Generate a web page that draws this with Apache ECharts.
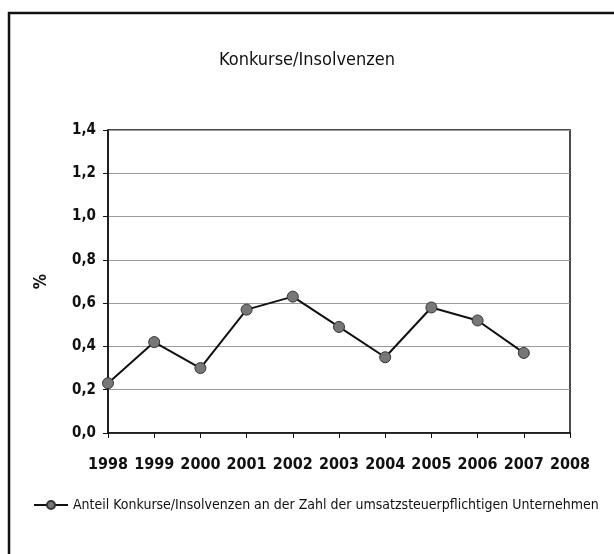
<!DOCTYPE html>
<html>
<head>
<meta charset="utf-8">
<script src="https://cdn.jsdelivr.net/npm/echarts@6/dist/echarts.min.js"></script>
<style>
  html, body { margin: 0; padding: 0; background: #fff; }
  #chart { width: 614px; height: 554px; }
</style>
</head>
<body>
<div id="chart"></div>
<script>
// Jahre (x-Achse)
const years = ['1998', '1999', '2000', '2001', '2002', '2003', '2004', '2005', '2006', '2007', '2008']
// Anteil Konkurse/Insolvenzen in %
const anteil = [0.23, 0.42, 0.30, 0.57, 0.63, 0.49, 0.35, 0.58, 0.52, 0.37, null]

const seriesName = 'Anteil Konkurse/Insolvenzen an der Zahl der umsatzsteuerpflichtigen Unternehmen'
const font = '"Liberation Sans Narrow", "DejaVu Sans Condensed", sans-serif'

const chart = echarts.init(document.getElementById('chart'))

chart.setOption({
  animation: false,
  textStyle: { fontFamily: font },
  title: {
    text: 'Konkurse/Insolvenzen',
    left: 'center',
    top: 46,
    textStyle: { fontFamily: font, fontSize: 18, fontWeight: 'normal', color: '#111' }
  },
  graphic: [{
    type: 'rect',
    shape: { x: 9, y: 13, width: 700, height: 700 },
    style: { fill: 'none', stroke: '#111', lineWidth: 2.5 },
    silent: true
  }],
  legend: {
    left: 28,
    top: 493,
    itemWidth: 34,
    itemHeight: 10,
    itemGap: 4,
    textStyle: { fontFamily: font, fontSize: 14, color: '#111' },
    data: [{ name: seriesName }]
  },
  grid: {
    left: 108,
    right: 44,
    top: 130,
    bottom: 121,
    show: true,
    borderColor: '#111',
    borderWidth: 1.5,
    containLabel: false
  },
  xAxis: {
    type: 'category',
    data: years,
    boundaryGap: false,
    axisLine: { lineStyle: { color: '#111', width: 1.5 } },
    axisTick: { show: true, length: 5, interval: 0, lineStyle: { color: '#111' } },
    axisLabel: { interval: 0, fontFamily: font, fontSize: 16, color: '#111', margin: 24, fontWeight: 'bold' }
  },
  yAxis: {
    type: 'value',
    min: 0,
    max: 1.4,
    interval: 0.2,
    name: '%',
    nameLocation: 'middle',
    nameGap: 58,
    nameTextStyle: { fontFamily: font, fontSize: 17, fontWeight: 'bold', color: '#111' },
    axisLine: { show: true, lineStyle: { color: '#111', width: 1.5 } },
    axisTick: { show: true, length: 5, lineStyle: { color: '#111' } },
    axisLabel: {
      fontFamily: font, fontSize: 15, color: '#111', margin: 12, fontWeight: 'bold',
      formatter: v => v.toFixed(1).replace('.', ',')
    },
    splitLine: { lineStyle: { color: '#9a9a9a', width: 1.2 } }
  },
  series: [{
    name: seriesName,
    type: 'line',
    data: anteil,
    symbol: 'circle',
    symbolSize: 11,
    lineStyle: { color: '#111', width: 2 },
    itemStyle: { color: '#777', borderColor: '#333', borderWidth: 1 }
  }]
})
</script>
</body>
</html>
